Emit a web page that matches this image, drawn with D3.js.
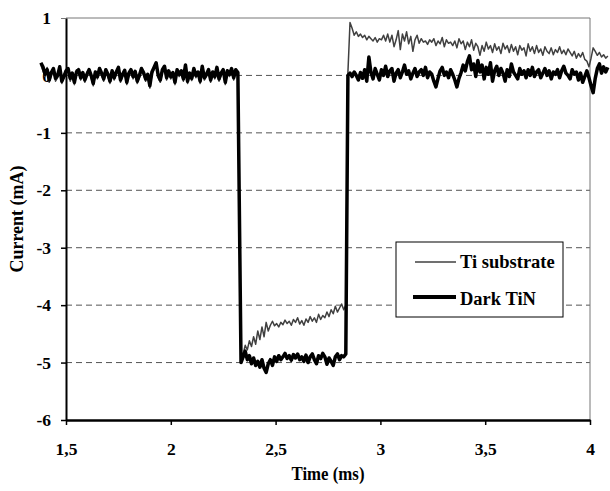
<!DOCTYPE html>
<html>
<head>
<meta charset="utf-8">
<script src="https://cdn.jsdelivr.net/npm/d3@7"></script>
<style>
  body { margin: 0; background: #fff; }
</style>
</head>
<body>
<div id="chart"></div>
<script>
var width = 610;
var height = 491;
var fontFamily = "'Liberation Serif', 'Times New Roman', Times, serif";

// sampling: each segment starts at a time and steps every 0.01 ms
var step = 0.01;
var preStart = 1.38;
var pulseStart = 2.335;
var postStart = 2.845;

// Dark TiN current (mA)
var tinPre = [0.22, 0.15, 0.02, 0.1, -0.08, 0.05, 0.12, -0.05, 0.0, 0.15,
  -0.1, -0.02, 0.08, 0.12, -0.05, 0.04, -0.12, 0.06, 0.1, -0.04,
  0.05, -0.08, 0.02, 0.1, 0.0, -0.14, 0.06, -0.02, 0.12, 0.04,
  -0.06, 0.1, 0.02, -0.1, 0.08, -0.04, 0.06, 0.14, -0.08, 0.02,
  0.09, -0.12, 0.04, 0.1, -0.02, 0.07, -0.1, 0.0, 0.12, 0.05,
  -0.06, 0.02, -0.18, 0.06, 0.14, 0.22, 0.0, -0.08, 0.1, 0.16,
  -0.04, 0.08, -0.02, 0.05, -0.12, 0.1, 0.02, 0.08, -0.06, 0.18,
  -0.1, 0.04, -0.05, 0.12, 0.0, 0.06, -0.1, 0.16, -0.04, 0.02,
  0.1, -0.08, 0.06, -0.02, 0.14, -0.06, 0.04, 0.1, -0.12, 0.08,
  0.02, 0.12, -0.04, 0.1, 0.05];
var tinPulse = [-5.0, -4.9, -4.8, -4.95, -4.88, -5.02, -4.92, -5.05, -4.98, -5.08,
  -4.95, -5.1, -5.17, -5.02, -4.95, -5.05, -4.9, -4.98, -4.88, -4.95,
  -4.9, -4.84, -4.93, -4.88, -4.96, -4.86, -4.92, -4.85, -4.95, -4.9,
  -4.98, -4.87, -5.0, -4.9, -4.85, -4.95, -5.02, -4.88, -4.93, -4.84,
  -4.9, -5.03, -4.92, -4.98, -5.05, -4.9, -4.85, -4.95, -4.88, -4.9,
  -4.85];
var tinPost = [0.0, 0.04, -0.02, 0.06, 0.0, -0.08, 0.05, -0.05, 0.1, -0.1,
  0.32, 0.05, -0.06, 0.12, 0.02, -0.08, 0.1, 0.0, 0.16, -0.02,
  0.08, 0.12, -0.1, 0.04, 0.1, -0.04, 0.06, 0.18, 0.02, 0.08,
  -0.06, 0.04, 0.12, -0.02, 0.06, 0.1, 0.0, 0.14, -0.04, 0.06,
  0.02, -0.1, -0.2, -0.05, 0.08, 0.14, 0.0, 0.06, -0.04, 0.1,
  0.02, -0.08, -0.2, -0.05, 0.05, 0.18, 0.08, 0.24, 0.34, 0.1,
  0.2, -0.02, 0.26, 0.06, 0.18, -0.06, 0.14, 0.02, 0.22, -0.1,
  0.08, 0.16, 0.0, 0.12, 0.04, -0.1, 0.1, -0.02, 0.2, 0.06,
  0.0, -0.06, 0.12, 0.02, 0.08, -0.04, 0.1, 0.0, 0.14, -0.02,
  0.06, 0.1, -0.04, 0.04, 0.12, 0.0, 0.08, -0.06, 0.06, 0.02,
  0.1, -0.04, 0.08, 0.16, 0.04, 0.0, -0.06, 0.1, 0.02, 0.06,
  -0.08, 0.04, -0.12, -0.02, 0.08, -0.04, -0.18, -0.3, -0.05, 0.12,
  0.2, 0.04, 0.15, 0.06, 0.14];

// Ti substrate current (mA)
var tiPre = [0.18, 0.08, -0.02, 0.14, -0.12, 0.0, 0.1, -0.1, -0.04, 0.12,
  -0.14, 0.02, 0.04, 0.08, -0.1, 0.0, -0.16, 0.1, 0.06, -0.08,
  0.02, -0.12, 0.06, 0.06, -0.04, -0.18, 0.02, -0.06, 0.08, 0.0,
  -0.1, 0.06, -0.02, -0.14, 0.04, -0.08, 0.02, 0.1, -0.12, -0.02,
  0.05, -0.16, 0.0, 0.06, -0.06, 0.03, -0.14, -0.04, 0.08, 0.01,
  -0.1, -0.02, -0.22, 0.02, 0.1, 0.18, -0.04, -0.12, 0.06, 0.12,
  -0.08, 0.04, -0.06, 0.01, -0.16, 0.06, -0.02, 0.04, -0.1, 0.14,
  -0.14, 0.0, -0.09, 0.08, -0.04, 0.02, -0.14, 0.12, -0.08, -0.02,
  0.06, -0.12, 0.02, -0.06, 0.1, -0.1, 0.0, 0.06, -0.16, 0.04,
  -0.02, 0.08, -0.08, 0.06, 0.02];
var tiPulse = [-5.0, -4.85, -4.7, -4.78, -4.62, -4.72, -4.55, -4.68, -4.45, -4.6,
  -4.38, -4.55, -4.3, -4.45, -4.35, -4.28, -4.36, -4.32, -4.38, -4.3,
  -4.34, -4.26, -4.32, -4.28, -4.35, -4.25, -4.3, -4.22, -4.33, -4.27,
  -4.35, -4.24, -4.3, -4.2, -4.28, -4.22, -4.3, -4.16, -4.25, -4.18,
  -4.22, -4.12, -4.2, -4.08, -4.15, -4.02, -4.12, -4.05, -3.98, -4.08,
  -4.0];
var tiPost = [0.05, 0.92, 0.82, 0.7, 0.76, 0.68, 0.72, 0.66, 0.7, 0.62,
  0.68, 0.64, 0.6, 0.66, 0.58, 0.64, 0.62, 0.7, 0.6, 0.72,
  0.58, 0.7, 0.5, 0.62, 0.78, 0.45, 0.72, 0.6, 0.76, 0.55,
  0.68, 0.42, 0.62, 0.7, 0.56, 0.64, 0.58, 0.6, 0.54, 0.62,
  0.58, 0.64, 0.52, 0.6, 0.55, 0.66, 0.5, 0.62, 0.56, 0.58,
  0.52, 0.6, 0.48, 0.64, 0.55, 0.6, 0.45, 0.58, 0.5, 0.62,
  0.44, 0.56, 0.5, 0.35, 0.52, 0.42, 0.58, 0.46, 0.52, 0.4,
  0.55, 0.44, 0.5, 0.38, 0.56, 0.46, 0.52, 0.4, 0.54, 0.42,
  0.5, 0.36, 0.52, 0.44, 0.48, 0.34, 0.55, 0.42, 0.5, 0.38,
  0.52, 0.4, 0.46, 0.35, 0.5, 0.42, 0.38, 0.48, 0.36, 0.45,
  0.4, 0.5, 0.38, 0.44, 0.36, 0.46, 0.4, 0.34, 0.42, 0.3,
  0.38, 0.32, 0.4, 0.28, 0.25, 0.15, 0.3, 0.48, 0.42, 0.35,
  0.4, 0.32, 0.36, 0.3, 0.34];

var xTicks = [1.5, 2, 2.5, 3, 3.5, 4];
var yTicks = [-6, -5, -4, -3, -2, -1, 0, 1];
var gridValues = [-5, -4, -3, -2, -1, 0];
var seriesNames = ["Ti substrate", "Dark TiN"];

function toPoints(start, values) {
  return values.map(function(v, i) { return { t: start + i * step, v: v }; });
}
var tiData = toPoints(preStart, tiPre).concat(toPoints(pulseStart, tiPulse), toPoints(postStart, tiPost));
var tinData = toPoints(preStart, tinPre).concat(toPoints(pulseStart, tinPulse), toPoints(postStart, tinPost));

var margin = { left: 66, top: 18, right: 20, bottom: 71 };
var x = d3.scaleLinear().domain([1.5, 4]).range([margin.left, width - margin.right]);
var y = d3.scaleLinear().domain([-6, 1]).range([height - margin.bottom, margin.top]);

var svg = d3.select("#chart").append("svg")
  .attr("width", width)
  .attr("height", height)
  .attr("font-family", fontFamily)
  .attr("font-weight", "bold");

// gridlines
svg.append("g")
  .selectAll("line")
  .data(gridValues)
  .enter().append("line")
  .attr("x1", x(1.5)).attr("x2", x(4))
  .attr("y1", function(d) { return y(d); })
  .attr("y2", function(d) { return y(d); })
  .attr("stroke", "#555")
  .attr("stroke-width", 1)
  .attr("stroke-dasharray", "6,4");

// top and right frame
svg.append("path")
  .attr("d", "M" + x(1.5) + "," + y(1) + "H" + x(4) + "V" + y(-6))
  .attr("fill", "none")
  .attr("stroke", "#777")
  .attr("stroke-width", 1);

var fmt = d3.formatLocale({ decimal: ",", thousands: ".", grouping: [3], currency: ["", ""] }).format(".1~f");

var xAxis = svg.append("g")
  .attr("transform", "translate(0," + y(-6) + ")")
  .call(d3.axisBottom(x).tickValues(xTicks).tickFormat(fmt).tickSize(5).tickSizeOuter(0))
  .attr("font-family", fontFamily)
  .attr("font-size", 17.5);
xAxis.select(".domain").attr("stroke-width", 2.5);
xAxis.selectAll(".tick line").attr("stroke-width", 1.5);
xAxis.selectAll("text").attr("y", 35).attr("dy", 0).attr("fill", "#000");

var yAxis = svg.append("g")
  .attr("transform", "translate(" + x(1.5) + ",0)")
  .call(d3.axisLeft(y).tickValues(yTicks).tickFormat(function(d) { return String(d); }).tickSize(5).tickSizeOuter(0))
  .attr("font-family", fontFamily)
  .attr("font-size", 17.5);
yAxis.select(".domain").attr("stroke-width", 2);
yAxis.selectAll(".tick line").attr("stroke-width", 1.5);
yAxis.selectAll("text").attr("x", -15).attr("fill", "#000");
yAxis.selectAll(".tick").filter(function(d) { return d === 1; }).select("line").attr("stroke", "#777").attr("stroke-width", 1);

var line = d3.line()
  .x(function(d) { return x(d.t); })
  .y(function(d) { return y(d.v); });

svg.append("path")
  .datum(tiData)
  .attr("d", line)
  .attr("fill", "none")
  .attr("stroke", "#404040")
  .attr("stroke-width", 1.5)
  .attr("stroke-linejoin", "round");

svg.append("path")
  .datum(tinData)
  .attr("d", line)
  .attr("fill", "none")
  .attr("stroke", "#000")
  .attr("stroke-width", 3.5)
  .attr("stroke-linejoin", "round");

// axis titles
svg.append("text")
  .attr("x", x(2.75))
  .attr("y", 480)
  .attr("text-anchor", "middle")
  .attr("font-size", 18)
  .attr("textLength", 73)
  .attr("lengthAdjust", "spacingAndGlyphs")
  .text("Time (ms)");

svg.append("text")
  .attr("transform", "translate(23," + y(-2.5) + ") rotate(-90)")
  .attr("text-anchor", "middle")
  .attr("font-size", 18)
  .text("Current (mA)");

// legend
var legend = svg.append("g").attr("transform", "translate(396,242)");
legend.append("rect")
  .attr("width", 167).attr("height", 75)
  .attr("fill", "#fff").attr("stroke", "#000").attr("stroke-width", 1);
var legendRows = legend.selectAll("g.row")
  .data(seriesNames)
  .enter().append("g")
  .attr("class", "row");
legendRows.append("line")
  .attr("x1", function(d, i) { return i === 0 ? 19 : 17; })
  .attr("x2", 60)
  .attr("y1", function(d, i) { return i === 0 ? 20 : 55; })
  .attr("y2", function(d, i) { return i === 0 ? 20 : 55; })
  .attr("stroke", function(d, i) { return i === 0 ? "#404040" : "#000"; })
  .attr("stroke-width", function(d, i) { return i === 0 ? 1.5 : 4; });
legendRows.append("text")
  .attr("x", 64)
  .attr("y", function(d, i) { return i === 0 ? 26 : 63; })
  .attr("font-size", 18.5)
  .text(function(d) { return d; });
</script>
</body>
</html>
